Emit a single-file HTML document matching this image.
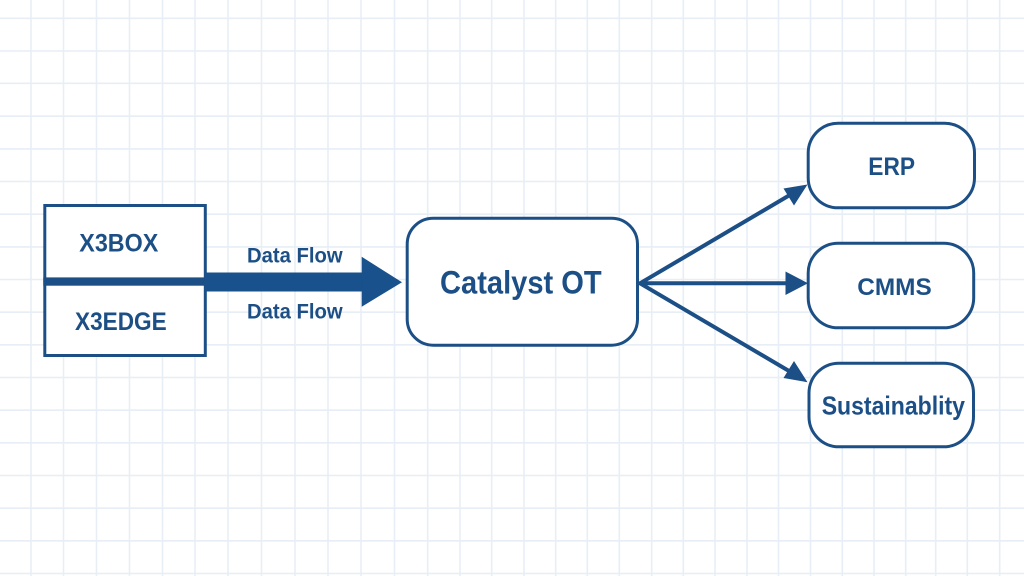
<!DOCTYPE html>
<html>
<head>
<meta charset="utf-8">
<style>
  html, body { margin:0; padding:0; background:#ffffff; }
  body { width:1024px; height:576px; overflow:hidden; }
  svg { display:block; }
  text { font-family: "Liberation Sans", "DejaVu Sans", sans-serif; font-weight:bold; fill:#1c4f86; }
</style>
</head>
<body>
<svg width="1024" height="576" viewBox="0 0 1024 576" xmlns="http://www.w3.org/2000/svg">
  <rect x="0" y="0" width="1024" height="576" fill="#ffffff"/>
  <path stroke="#e7eef6" stroke-width="1.6" fill="none" d="M31 0V576M63.5 0V576M96.5 0V576M129.5 0V576M162.5 0V576M195 0V576M228 0V576M261.5 0V576M295 0V576M328 0V576M361 0V576M394.5 0V576M427.7 0V576M460 0V576M491.7 0V576M524 0V576M555.7 0V576M587.3 0V576M619.3 0V576M651.7 0V576M683.3 0V576M715 0V576M747 0V576M778.5 0V576M810.5 0V576M842.3 0V576M874 0V576M905.7 0V576M935.7 0V576M967.3 0V576M999.7 0V576M0 18.3H1024M0 51H1024M0 83.3H1024M0 116.2H1024M0 148.9H1024M0 181.5H1024M0 214.2H1024M0 246.9H1024M0 279.5H1024M0 312.2H1024M0 344.8H1024M0 377.5H1024M0 410.2H1024M0 442.8H1024M0 475.5H1024M0 508.2H1024M0 540.8H1024M0 573.5H1024"/>

  <rect x="44.8" y="205.5" width="160.5" height="150" fill="#ffffff" stroke="#1c4f86" stroke-width="3"/>
  <rect x="43.3" y="277.4" width="163.4" height="8.3" fill="#1c4f86"/>
  <text x="79.3" y="251.5" font-size="25" textLength="79" lengthAdjust="spacingAndGlyphs">X3BOX</text>
  <text x="75" y="330" font-size="25" textLength="91.7" lengthAdjust="spacingAndGlyphs">X3EDGE</text>

  <rect x="205" y="272.5" width="158" height="19" fill="#18518b"/>
  <polygon points="361.7,256.7 402,282.3 361.7,306.7" fill="#18518b"/>
  <text x="247" y="262.3" font-size="21" textLength="95.7" lengthAdjust="spacingAndGlyphs">Data Flow</text>
  <text x="247" y="318.3" font-size="21" textLength="95.7" lengthAdjust="spacingAndGlyphs">Data Flow</text>

  <rect x="407.2" y="218.2" width="230.3" height="127" rx="26" ry="26" fill="#ffffff" stroke="#1c4f86" stroke-width="3"/>
  <text x="440" y="293.3" font-size="32" textLength="161.7" lengthAdjust="spacingAndGlyphs">Catalyst OT</text>

  <path stroke="#1c4f86" stroke-width="4" stroke-linecap="round" fill="none" d="M640 283.3L789 195.5M640 283.3H788M640 283.3L789 371"/>
  <path fill="#1c4f86" d="M807.5 184.5L783.5 188.5L794 205.5ZM808 283.3L785.5 271.5L785.5 295ZM807.5 382.2L783.5 378L794 361Z"/>

  <rect x="808.2" y="123.2" width="166.3" height="84.6" rx="30" ry="30" fill="#ffffff" stroke="#1c4f86" stroke-width="3"/>
  <rect x="808.2" y="243.2" width="165.5" height="84.6" rx="30" ry="30" fill="#ffffff" stroke="#1c4f86" stroke-width="3"/>
  <rect x="809" y="363.2" width="164.5" height="83.6" rx="30" ry="30" fill="#ffffff" stroke="#1c4f86" stroke-width="3"/>

  <text x="868.3" y="175" font-size="25" textLength="46.7" lengthAdjust="spacingAndGlyphs">ERP</text>
  <text x="857.3" y="295" font-size="24" textLength="74.4" lengthAdjust="spacingAndGlyphs">CMMS</text>
  <text x="821.7" y="414.5" font-size="26" textLength="143.3" lengthAdjust="spacingAndGlyphs">Sustainablity</text>
</svg>
</body>
</html>
